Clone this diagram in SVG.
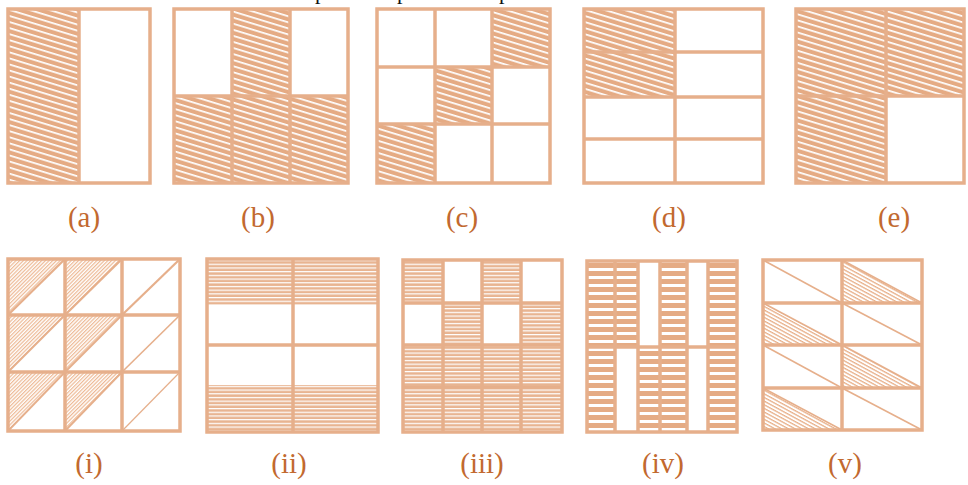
<svg xmlns="http://www.w3.org/2000/svg" width="968" height="485" viewBox="0 0 968 485">
<defs>
<pattern id="hd" patternUnits="userSpaceOnUse" width="40" height="5.8" patternTransform="rotate(17)">
<rect width="40" height="5.8" fill="#E5AB84"/><rect y="0" width="40" height="1.7" fill="#fff"/>
</pattern>
<pattern id="hf" patternUnits="userSpaceOnUse" width="10" height="2.6" patternTransform="rotate(-45)">
<rect width="10" height="2.6" fill="#fff"/><rect width="10" height="1.2" fill="#EDB995"/>
</pattern>
<pattern id="hh" patternUnits="userSpaceOnUse" width="20" height="3.7" y="1">
<rect width="20" height="3.7" fill="#E8B491"/><rect width="20" height="1.2" fill="#fff"/>
</pattern>
<pattern id="h4" patternUnits="userSpaceOnUse" width="20" height="8" y="2">
<rect width="20" height="8" fill="#E5AB84"/><rect width="20" height="3" y="2" fill="#fff"/>
</pattern>
<pattern id="hv" patternUnits="userSpaceOnUse" width="40" height="3.2" patternTransform="rotate(28.5)">
<rect width="40" height="3.2" fill="#fff"/><rect width="40" height="1.3" fill="#E8B08A"/>
</pattern>
</defs>
<style>
.g{fill:none;stroke:#E6AF8B;stroke-width:3.5;stroke-linecap:square}
.t{stroke:#E6AF8B;stroke-width:3.5;fill:none}
.d{stroke:#E6AF8B;stroke-width:1.6;fill:none}
.lb{font-family:"Liberation Serif","Times New Roman",serif;font-size:29px;fill:#C2692F;text-anchor:middle}
.pp{font-family:"Liberation Serif","Times New Roman",serif;font-size:22px;fill:#111}
</style>
<rect width="968" height="485" fill="#fff"/>

<g id="header-fragments">
<text class="pp" x="315" y="-1">p</text>
<text class="pp" x="397" y="-1">p</text>
<text class="pp" x="499" y="-1">p</text>
</g>

<g id="fig-a">
<rect x="8" y="9" width="71" height="174" fill="url(#hd)"/>
<rect class="g" x="8" y="9" width="142" height="174"/>
<line class="t" x1="79" y1="9" x2="79" y2="183"/>
</g>

<g id="fig-b">
<rect x="232" y="9" width="58" height="87" fill="url(#hd)"/>
<rect x="174" y="96" width="174" height="87" fill="url(#hd)"/>
<rect class="g" x="174" y="9" width="174" height="174"/>
<line class="t" x1="232" y1="9" x2="232" y2="183"/>
<line class="t" x1="290" y1="9" x2="290" y2="183"/>
<line class="t" x1="174" y1="96" x2="348" y2="96"/>
</g>

<g id="fig-c">
<rect x="492" y="9" width="58" height="58" fill="url(#hd)"/>
<rect x="435" y="67" width="57" height="57" fill="url(#hd)"/>
<rect x="377" y="124" width="58" height="59" fill="url(#hd)"/>
<rect class="g" x="377" y="9" width="173" height="174"/>
<line class="t" x1="435" y1="9" x2="435" y2="183"/>
<line class="t" x1="492" y1="9" x2="492" y2="183"/>
<line class="t" x1="377" y1="67" x2="550" y2="67"/>
<line class="t" x1="377" y1="124" x2="550" y2="124"/>
</g>

<g id="fig-d">
<rect x="584" y="9" width="91" height="88" fill="url(#hd)"/>
<rect class="g" x="584" y="9" width="179" height="174"/>
<line class="t" x1="675" y1="9" x2="675" y2="183"/>
<line class="t" x1="584" y1="52" x2="763" y2="52"/>
<line class="t" x1="584" y1="97" x2="763" y2="97"/>
<line class="t" x1="584" y1="139" x2="763" y2="139"/>
</g>

<g id="fig-e">
<rect x="796" y="9" width="168" height="87" fill="url(#hd)"/>
<rect x="796" y="96" width="90" height="87" fill="url(#hd)"/>
<rect class="g" x="796" y="9" width="168" height="174"/>
<line class="t" x1="886" y1="9" x2="886" y2="183"/>
<line class="t" x1="796" y1="96" x2="964" y2="96"/>
</g>

<g id="fig-i">
<polygon points="8,259 65,259 8,315" fill="url(#hf)"/>
<polygon points="65,259 122,259 65,315" fill="url(#hf)"/>
<polygon points="8,315 65,315 8,372" fill="url(#hf)"/>
<polygon points="65,315 122,315 65,372" fill="url(#hf)"/>
<polygon points="8,372 65,372 8,431" fill="url(#hf)"/>
<polygon points="65,372 122,372 65,431" fill="url(#hf)"/>
<line stroke="#E6AF8B" stroke-width="2.2" x1="8" y1="315" x2="65" y2="259"/>
<line stroke="#E6AF8B" stroke-width="2.2" x1="65" y1="315" x2="122" y2="259"/>
<line stroke="#E6AF8B" stroke-width="2.2" x1="122" y1="315" x2="180" y2="259"/>
<line stroke="#E6AF8B" stroke-width="2" x1="8" y1="372" x2="65" y2="315"/>
<line stroke="#E6AF8B" stroke-width="2" x1="65" y1="372" x2="122" y2="315"/>
<line stroke="#E6AF8B" stroke-width="1.6" x1="122" y1="372" x2="180" y2="315"/>
<line stroke="#E6AF8B" stroke-width="1.8" x1="8" y1="431" x2="65" y2="372"/>
<line stroke="#E6AF8B" stroke-width="1.8" x1="65" y1="431" x2="122" y2="372"/>
<line stroke="#E6AF8B" stroke-width="1.2" x1="122" y1="431" x2="180" y2="372"/>
<rect class="g" x="8" y="259" width="172" height="172" stroke-width="4.5"/>
<line class="t" x1="65" y1="259" x2="65" y2="431"/>
<line class="t" x1="122" y1="259" x2="122" y2="431"/>
<line class="t" x1="8" y1="315" x2="180" y2="315"/>
<line class="t" x1="8" y1="372" x2="180" y2="372"/>
</g>

<g id="fig-ii">
<rect x="207" y="259" width="171" height="46" fill="url(#hh)"/>
<rect x="207" y="385" width="171" height="47" fill="url(#hh)"/>
<rect class="g" x="207" y="259" width="171" height="173" stroke-width="4"/>
<line class="t" x1="293" y1="259" x2="293" y2="432"/>
<line class="t" x1="207" y1="345" x2="378" y2="345"/>
</g>

<g id="fig-iii">
<rect x="403" y="260" width="40" height="43" fill="url(#hh)"/>
<rect x="482" y="260" width="39" height="43" fill="url(#hh)"/>
<rect x="443" y="303" width="39" height="42" fill="url(#hh)"/>
<rect x="521" y="303" width="41" height="42" fill="url(#hh)"/>
<rect x="403" y="345" width="159" height="87" fill="url(#hh)"/>
<rect class="g" x="403" y="260" width="159" height="172"/>
<line class="t" x1="443" y1="260" x2="443" y2="432"/>
<line class="t" x1="482" y1="260" x2="482" y2="432"/>
<line class="t" x1="521" y1="260" x2="521" y2="432"/>
<line class="t" x1="403" y1="303" x2="562" y2="303"/>
<line class="t" x1="403" y1="345" x2="562" y2="345"/>
<line class="t" x1="403" y1="387" x2="562" y2="387"/>
</g>

<g id="fig-iv">
<rect x="587" y="261" width="51" height="86" fill="url(#h4)"/>
<rect x="660" y="261" width="27" height="86" fill="url(#h4)"/>
<rect x="708" y="261" width="29" height="86" fill="url(#h4)"/>
<rect x="587" y="347" width="28" height="85" fill="url(#h4)"/>
<rect x="638" y="347" width="49" height="85" fill="url(#h4)"/>
<rect x="708" y="347" width="29" height="85" fill="url(#h4)"/>
<rect class="g" x="587" y="261" width="150" height="171"/>
<line class="t" x1="587" y1="347" x2="737" y2="347"/>
<line class="t" x1="615" y1="261" x2="615" y2="432"/>
<line class="t" x1="638" y1="261" x2="638" y2="432"/>
<line class="t" x1="660" y1="261" x2="660" y2="432"/>
<line class="t" x1="687" y1="261" x2="687" y2="432"/>
<line class="t" x1="708" y1="261" x2="708" y2="432"/>
</g>

<g id="fig-v">
<polygon points="842,260 842,303 922,303" fill="url(#hv)"/>
<polygon points="763,303 763,345 842,345" fill="url(#hv)"/>
<polygon points="842,345 842,388 922,388" fill="url(#hv)"/>
<polygon points="763,388 763,430 842,430" fill="url(#hv)"/>
<line class="d" x1="763" y1="260" x2="842" y2="303"/>
<line class="d" x1="842" y1="260" x2="922" y2="303"/>
<line class="d" x1="763" y1="303" x2="842" y2="345"/>
<line class="d" x1="842" y1="303" x2="922" y2="345"/>
<line class="d" x1="763" y1="345" x2="842" y2="388"/>
<line class="d" x1="842" y1="345" x2="922" y2="388"/>
<line class="d" x1="763" y1="388" x2="842" y2="430"/>
<line class="d" x1="842" y1="388" x2="922" y2="430"/>
<rect class="g" x="763" y="260" width="159" height="170"/>
<line class="t" x1="842" y1="260" x2="842" y2="430"/>
<line class="t" x1="763" y1="303" x2="922" y2="303"/>
<line class="t" x1="763" y1="345" x2="922" y2="345"/>
<line class="t" x1="763" y1="388" x2="922" y2="388"/>
</g>

<g id="labels">
<text class="lb" x="84" y="227">(a)</text>
<text class="lb" x="258" y="227">(b)</text>
<text class="lb" x="462" y="227">(c)</text>
<text class="lb" x="669" y="227">(d)</text>
<text class="lb" x="894" y="227">(e)</text>
<text class="lb" x="89" y="473">(i)</text>
<text class="lb" x="289" y="473">(ii)</text>
<text class="lb" x="482" y="473">(iii)</text>
<text class="lb" x="663" y="473">(iv)</text>
<text class="lb" x="845" y="473">(v)</text>
</g>
</svg>
